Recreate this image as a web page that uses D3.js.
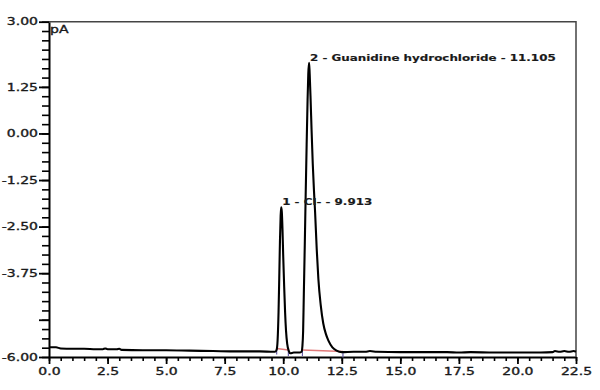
<!DOCTYPE html>
<html>
<head>
<meta charset="utf-8">
<script src="https://cdn.jsdelivr.net/npm/d3@7"></script>
<style>
  body { margin: 0; background: #fff; }
  text { font-family: "DejaVu Sans", sans-serif; fill: #1a1a1a; stroke: #1a1a1a; stroke-width: 0.35px; }
</style>
</head>
<body>
<script>
// chromatogram, signal in pA against retention time in min

let width = 600, height = 390;
let margin = {top: 21.7, right: 24, bottom: 33, left: 49};

// trace points, retention time (min)
let times = [
  0.0, 0.3, 0.5, 1.0, 1.5, 2.0, 2.3, 2.4, 2.5, 2.9, 3.0, 3.1, 4.0, 5.0, 6.0, 7.0, 8.0, 9.0, 9.6,
  9.65, 9.72, 9.76, 9.80, 9.83, 9.86, 9.89, 9.913, 9.94, 9.97, 10.00, 10.04, 10.08, 10.12, 10.17, 10.24, 10.30, 10.45, 10.70,
  10.78, 10.82, 10.85, 10.88, 10.92, 10.96, 11.00, 11.04, 11.07, 11.105, 11.13, 11.17, 11.21, 11.26, 11.31, 11.36, 11.43,
  11.50, 11.60, 11.71, 11.82, 11.93, 12.10, 12.28, 12.50,
  13.0, 13.5, 13.7, 14.0, 15.0, 16.0, 17.0, 17.5, 18.0, 19.0, 20.0, 21.0, 21.5, 21.6, 21.8, 22.0, 22.2, 22.4, 22.5
];
// trace points, signal (pA)
let signal = [
  -5.74, -5.74, -5.77, -5.78, -5.78, -5.79, -5.79, -5.77, -5.79, -5.79, -5.78, -5.81, -5.82, -5.82, -5.83, -5.84, -5.85, -5.85, -5.86,
  -5.86, -5.80, -5.55, -4.80, -3.90, -2.90, -2.20, -1.98, -2.10, -2.60, -3.30, -4.10, -4.80, -5.30, -5.65, -5.84, -5.90, -5.88, -5.88,
  -5.86, -5.70, -5.30, -4.30, -3.00, -1.60, -0.30, 0.90, 1.60, 1.90, 1.60, 0.90, 0.10, -0.80, -1.50, -2.10, -3.10,
  -3.90, -4.60, -5.10, -5.38, -5.56, -5.74, -5.83, -5.87,
  -5.86, -5.86, -5.84, -5.86, -5.87, -5.87, -5.87, -5.88, -5.87, -5.88, -5.88, -5.88, -5.87, -5.84, -5.86, -5.84, -5.86, -5.84, -5.86
];

// peaks
let peakTimes = [9.913, 11.105];
let peakHeights = [-1.98, 1.90];
let peakNames = ["1 - Cl- - 9.913", "2 - Guanidine hydrochloride - 11.105"];

// integration baselines, start and end of each peak
let baseStart = [9.72, 10.82];
let baseStartVal = [-5.80, -5.84];
let baseEnd = [10.22, 12.55];
let baseEndVal = [-5.84, -5.88];

// axis ticks
let yTicks = [3, 1.25, 0, -1.25, -2.5, -3.75, -5, -6];
let yLabels = ["3.00", "1.25", "0.00", "-1.25", "-2.50", "-3.75", "", "-6.00"];
let xTicks = [0, 2.5, 5, 7.5, 10, 12.5, 15, 17.5, 20, 22.5];
let xLabels = ["0.0", "2.5", "5.0", "7.5", "10.0", "12.5", "15.0", "17.5", "20.0", "22.5"];

let stretch = 1.4; // text in the original is wide

let xScale = d3.scaleLinear().domain([0, 22.5]).range([margin.left, width - margin.right]);
let yScale = d3.scaleLinear().domain([-6, 3]).range([height - margin.bottom, margin.top]);

let svg = d3.select("body").append("svg")
    .attr("width", width)
    .attr("height", height);

// minor ticks first
svg.append("g")
    .attr("transform", "translate(" + margin.left + ",0)")
    .call(d3.axisLeft(yScale).tickValues(d3.range(-6, 3.001, 0.25)).tickSize(7).tickFormat(""))
    .call(g => g.select(".domain").remove())
    .call(g => g.selectAll("line").attr("stroke-width", 1.6));

svg.append("g")
    .attr("transform", "translate(0," + yScale(-6) + ")")
    .call(d3.axisBottom(xScale).tickValues(d3.range(0, 22.51, 0.5)).tickSize(4).tickFormat(""))
    .call(g => g.select(".domain").remove())
    .call(g => g.selectAll("line").attr("stroke-width", 1.6));

// major ticks and labels
svg.append("g")
    .attr("transform", "translate(" + margin.left + ",0)")
    .call(d3.axisLeft(yScale).tickValues(yTicks).tickSize(10).tickSizeOuter(0)
      .tickFormat((d, i) => yLabels[i]))
    .call(g => g.select(".domain").attr("stroke-width", 2))
    .call(g => g.selectAll("line").attr("stroke-width", 1.8))
    .call(g => g.selectAll("text")
      .attr("x", 0)
      .attr("transform", "translate(-11,0) scale(" + stretch + ",1)")
      .style("font-size", "10px"));

svg.append("g")
    .attr("transform", "translate(0," + yScale(-6) + ")")
    .call(d3.axisBottom(xScale).tickValues(xTicks).tickSize(7).tickPadding(4).tickSizeOuter(0)
      .tickFormat((d, i) => xLabels[i]))
    .call(g => g.select(".domain").attr("stroke-width", 2))
    .call(g => g.selectAll("line").attr("stroke-width", 1.8))
    .call(g => g.selectAll("text")
      .attr("transform", "scale(" + stretch + ",1)")
      .style("font-size", "10px"));

// frame top and right
svg.append("path")
    .attr("d", "M" + xScale(0) + "," + yScale(3) + "H" + xScale(22.5) + "V" + yScale(-6))
    .attr("fill", "none")
    .attr("stroke", "#444")
    .attr("stroke-width", 1.5);

svg.append("text")
    .attr("transform", "translate(" + (xScale(0) + 1) + "," + (yScale(3) + 11) + ") scale(" + stretch + ",1)")
    .style("font-size", "10px")
    .text("pA");

// integration baselines
let bases = baseStart.map((t, i) => [[t, baseStartVal[i]], [baseEnd[i], baseEndVal[i]]]);
svg.append("g").selectAll("path")
    .data(bases)
    .enter().append("path")
    .attr("d", d3.line().x(d => xScale(d[0])).y(d => yScale(d[1]) - 1))
    .attr("stroke", "#e07a7a")
    .attr("stroke-width", 1.5);

// peak delimiter markers
let marks = baseStart.concat(baseEnd).map((t, i) => [t, baseStartVal.concat(baseEndVal)[i]]);
svg.append("g").selectAll("line")
    .data(marks)
    .enter().append("line")
    .attr("x1", d => xScale(d[0]))
    .attr("x2", d => xScale(d[0]))
    .attr("y1", d => yScale(d[1]) - 1)
    .attr("y2", d => yScale(d[1]) + 5)
    .attr("stroke", "#6a5fa8")
    .attr("stroke-width", 1.2);

// the trace
let trace = times.map((t, i) => [t, signal[i]]);
svg.append("path")
    .datum(trace)
    .attr("d", d3.line().x(d => xScale(d[0])).y(d => yScale(d[1])).curve(d3.curveMonotoneX))
    .attr("fill", "none")
    .attr("stroke", "#000")
    .attr("stroke-width", 2.1)
    .attr("stroke-linejoin", "round");

// peak labels
svg.append("g").selectAll("text")
    .data(peakTimes)
    .enter().append("text")
    .attr("transform", (d, i) => "translate(" + (xScale(d) + 1) + "," + (yScale(peakHeights[i]) - 2) + ") scale(" + stretch + ",1)")
    .style("font-size", "8.5px")
    .style("font-weight", "bold")
    .style("stroke-width", "0.15px")
    .text((d, i) => peakNames[i]);
</script>
</body>
</html>
